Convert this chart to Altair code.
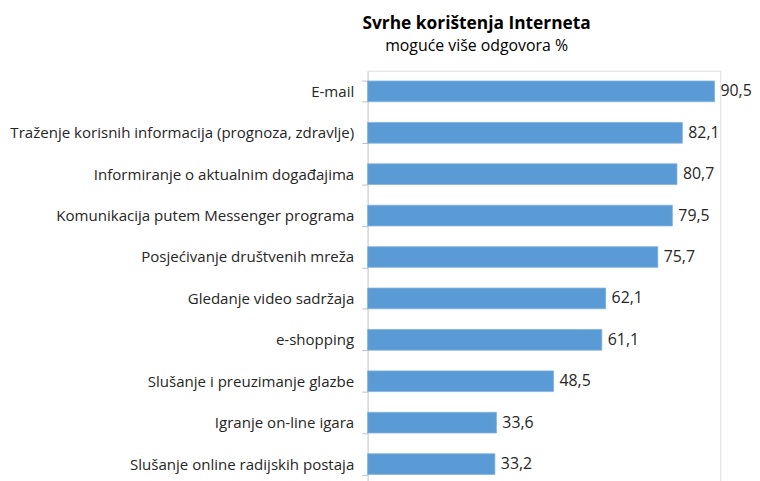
import altair as alt
import pandas as pd

categories = [
    "E-mail",
    "Traženje korisnih informacija (prognoza, zdravlje)",
    "Informiranje o aktualnim događajima",
    "Komunikacija putem Messenger programa",
    "Posjećivanje društvenih mreža",
    "Gledanje video sadržaja",
    "e-shopping",
    "Slušanje i preuzimanje glazbe",
    "Igranje on-line igara",
    "Slušanje online radijskih postaja",
]
values = [90.5, 82.1, 80.7, 79.5, 75.7, 62.1, 61.1, 48.5, 33.6, 33.2]

df = pd.DataFrame({"cat": categories, "val": values})

FONT = "Open Sans"

base = alt.Chart(df).encode(
    y=alt.Y(
        "cat:N",
        sort=categories,
        title=None,
        scale=alt.Scale(paddingInner=0.5, paddingOuter=0.25),
        axis=alt.Axis(
            labelFont=FONT,
            labelFontSize=15.2,
            labelColor="#262626",
            labelPadding=8,
            labelLimit=450,
            domainColor="#D0D0D0",
            tickColor="#C0C0C0",
            tickSize=6,
            tickBand="extent",
            grid=False,
        ),
    ),
    x=alt.X(
        "val:Q",
        scale=alt.Scale(domain=[0, 92]),
        axis=None,
    ),
)

bars = base.mark_bar(color="#5B9BD5", stroke="#7FB2E0", strokeWidth=0.8)
labels = base.transform_calculate(
    lbl="replace(format(datum.val, '.1f'), '.', ',')"
).mark_text(
    align="left", dx=6, font=FONT, fontSize=16, color="#262626"
).encode(text="lbl:N")

chart = (
    (bars + labels)
    .properties(
        width=356,
        height=418,
        padding={"left": 1, "top": 4, "right": 0, "bottom": 0},
        title=alt.TitleParams(
            text="Svrhe korištenja Interneta",
            subtitle="moguće više odgovora %",
            font=FONT,
            fontSize=17.5,
            fontWeight="bold",
            color="#000000",
            subtitleFont=FONT,
            subtitleFontSize=16,
            subtitleColor="#000000",
            anchor="middle",
            dx=-68,
            offset=10,
            subtitlePadding=6,
        ),
    )
    .configure_view(strokeWidth=0, stroke="transparent")
    .configure(background="white")
)

chart.save("out.html", embed_options={"renderer": "svg", "actions": False})
